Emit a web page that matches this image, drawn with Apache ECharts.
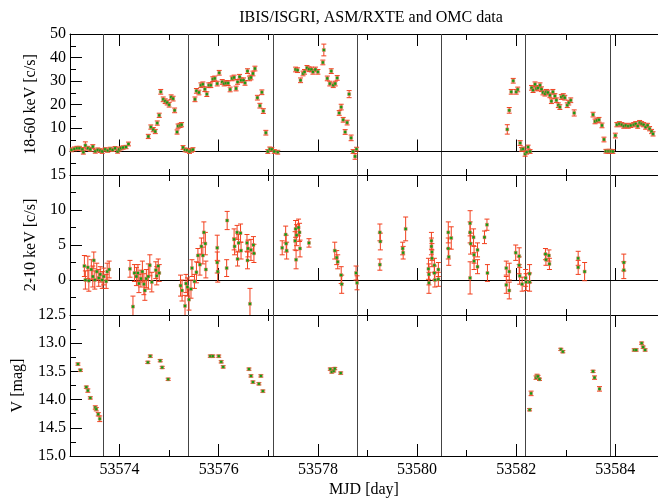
<!DOCTYPE html>
<html><head><meta charset="utf-8">
<script src="https://cdn.jsdelivr.net/npm/echarts/dist/echarts.min.js"></script>
<style>html,body{margin:0;padding:0;background:#fff}#c{width:658px;height:499px}</style>
</head><body><div id="c"></div>
<script>
// ---------- DATA ----------
const hardMjd = [
 53573.03,53573.09,53573.14,53573.19,53573.25,53573.27,53573.31,53573.36,53573.41,53573.46,53573.51,53573.56,53573.61,53573.65,53573.71,53573.76,53573.81,53573.86,53573.91,53573.96,53573.99,53574.03,53574.07,53574.13,53574.18,
 53574.58,53574.63,53574.68,53574.72,53574.76,53574.80,53574.83,53574.88,53574.92,53574.96,53575.00,53575.04,53575.08,53575.11,53575.16,53575.18,53575.22,53575.25,
 53575.28,53575.32,53575.36,53575.41,53575.45,53575.48,
 53575.52,53575.55,53575.60,53575.64,53575.68,53575.72,53575.76,53575.80,53575.84,53575.88,53575.92,53575.97,53576.01,53576.07,53576.11,53576.15,53576.19,53576.23,53576.27,53576.31,53576.35,53576.38,53576.42,53576.45,53576.50,53576.53,53576.58,53576.62,53576.65,53576.69,53576.73,53576.78,53576.83,53576.87,53576.90,53576.95,
 53576.99,53577.03,53577.07,53577.12,53577.19,
 53577.55,53577.59,53577.65,53577.70,53577.73,53577.78,53577.82,53577.87,53577.90,53577.95,53578.00,53578.10,53578.12,53578.19,53578.24,53578.27,53578.31,53578.35,53578.39,53578.43,53578.47,53578.51,53578.55,53578.59,53578.63,53578.67,53578.71,53578.75,53578.78,
 53581.82,53581.86,53581.90,53581.94,53582.00,53582.03,53582.08,53582.11,53582.14,53582.18,53582.21,53582.24,53582.28,
 53582.31,53582.34,53582.38,53582.41,53582.44,53582.48,53582.51,53582.54,53582.58,53582.61,53582.64,53582.68,53582.71,53582.74,53582.78,53582.81,53582.85,53582.88,53582.91,53582.95,53582.98,53583.03,53583.06,53583.10,53583.17,
 53583.55,53583.59,53583.63,53583.67,53583.73,53583.77,53583.81,53583.85,53583.88,53583.91,53583.95,
 53584.00,53584.03,53584.08,53584.13,53584.17,53584.21,53584.26,53584.31,53584.37,53584.41,53584.45,53584.49,53584.53,53584.57,53584.61,53584.65,53584.69,53584.73,53584.76
];
const hardRate = [
 0.7,1.1,1.4,1.4,0.9,-0.3,2.6,1.4,0.9,2.1,0.1,0.7,0.4,0.0,0.9,0.4,1.1,0.7,1.4,0.0,0.9,1.4,1.7,1.9,3.2,
 6.4,10.4,9.3,8.5,12.1,15.4,25.4,22.2,21.4,20.8,19.9,23.1,22.5,17.5,8.3,10.8,11.1,11.4,
 1.7,0.7,0.5,0.0,0.5,0.8,
 22.2,25.8,25.1,28.2,28.6,26.5,24.4,28.2,28.2,30.8,31.1,28.9,33.5,29.6,28.9,29.1,29.1,26.4,31.1,31.5,26.8,29.6,31.8,30.3,30.3,29.2,34.2,31.1,31.5,33.2,35.3,22.9,19.5,25.2,17.2,8.0,
 0.0,1.1,0.9,0.0,-0.3,
 34.9,34.6,30.3,33.2,33.9,35.6,35.0,34.9,33.9,34.9,33.9,37.9,43.2,31.1,28.9,34.2,28.2,28.9,31.3,16.4,18.9,13.5,8.3,12.3,24.4,5.8,0.0,-2.1,1.0,
 9.4,17.5,25.4,30.1,25.4,26.4,3.6,0.9,1.1,-1.0,-0.3,1.9,0.0,
 27.1,26.1,28.6,26.8,27.1,28.2,26.5,25.1,24.6,25.4,25.1,23.9,21.4,25.4,23.6,21.8,19.7,18.9,23.2,23.6,22.9,19.7,20.8,21.8,16.4,
 15.7,12.8,13.2,13.5,11.1,5.1,0.1,0.1,0.1,0.1,0.0,
 6.8,11.4,11.8,11.4,10.8,11.1,10.8,11.1,11.4,11.8,10.8,12.3,11.8,11.4,10.4,11.1,9.7,8.5,7.5
];
const hardErr = [
 0.8,0.8,0.8,0.8,0.8,0.8,1.5,0.8,0.8,0.8,0.8,0.8,0.8,0.8,0.7,0.7,0.7,0.7,0.7,0.7,0.7,0.7,0.7,0.7,0.8,
 0.9,0.9,0.9,0.9,0.9,0.9,1.0,1.0,1.0,1.0,1.0,1.0,1.0,1.0,0.9,0.9,0.9,0.9,
 0.8,0.8,0.8,0.8,0.8,0.8,
 1.0,1.0,1.0,1.0,1.0,1.0,1.0,1.0,1.0,1.0,1.0,1.0,1.0,1.0,1.0,1.0,1.0,1.0,1.0,1.0,1.0,1.0,1.0,1.0,1.0,1.0,1.0,1.0,1.0,1.0,1.0,1.0,1.0,1.0,1.0,1.0,
 0.8,0.8,0.8,0.8,0.8,
 1.0,1.0,1.0,1.0,1.0,1.0,1.0,1.0,1.0,1.0,1.0,1.0,2.5,1.0,1.0,1.0,1.0,1.0,1.0,1.0,1.2,1.0,1.0,1.0,1.5,1.2,0.8,1.2,0.8,
 2.0,1.2,1.0,1.0,1.0,1.0,1.0,0.8,0.8,1.0,0.8,0.8,0.8,
 1.0,1.0,1.0,1.0,1.0,1.0,1.0,1.0,1.0,1.0,1.0,1.0,1.0,1.0,1.0,1.0,1.0,1.0,1.0,1.0,1.0,1.0,1.0,1.0,1.3,
 1.0,1.0,1.0,1.0,1.0,1.0,0.8,0.8,0.8,0.8,0.8,
 1.0,0.9,0.9,0.9,0.9,0.9,0.9,0.9,0.9,0.9,0.9,0.9,0.9,0.9,0.9,0.9,0.9,0.9,0.9
];

const softMjd = [
 53573.29,53573.31,53573.36,53573.38,53573.43,53573.46,53573.48,53573.50,53573.54,53573.58,53573.61,53573.65,53573.68,53573.73,53573.75,53573.79,
 53574.21,53574.27,53574.30,53574.34,53574.37,53574.39,53574.43,53574.46,53574.49,53574.51,53574.54,53574.58,53574.61,53574.65,53574.73,53574.75,53574.78,53574.80,
 53575.23,53575.26,53575.32,53575.34,53575.37,53575.40,53575.44,53575.46,53575.51,53575.55,53575.58,53575.62,53575.65,53575.68,53575.70,53575.73,53575.74,
 53575.97,53575.97,53575.98,53576.16,53576.17,53576.31,53576.32,53576.37,53576.38,53576.40,53576.44,53576.45,53576.57,53576.58,53576.59,53576.63,53576.65,53576.70,53576.71,
 53577.28,53577.35,53577.36,53577.37,53577.54,53577.55,53577.56,53577.57,53577.61,53577.63,53577.64,53577.82,
 53578.34,53578.38,53578.40,53578.47,53578.48,53578.77,53578.79,
 53579.25,53579.26,53579.25,53579.71,53579.72,53579.77,
 53580.23,53580.24,53580.24,53580.29,53580.29,53580.30,53580.30,53580.35,53580.35,53580.36,53580.43,53580.43,53580.63,53580.63,53580.64,53580.69,
 53581.07,53581.07,53581.08,53581.07,53581.14,53581.15,53581.15,53581.22,53581.22,53581.36,53581.41,53581.42,
 53581.80,53581.80,53581.86,53581.86,53581.99,53582.06,53582.06,53582.07,53582.12,53582.19,53582.20,53582.27,53582.27,
 53582.59,53582.60,53582.66,53582.67,53583.25,53583.25,53583.38,53584.17,53584.17
];
const softRate = [
 2.0,0.0,1.8,-0.1,1.5,0.5,2.8,0.0,1.2,0.3,0.8,0.0,0.5,-0.2,1.2,1.5,
 1.6,-3.8,1.0,0.5,1.0,-0.5,0.2,1.2,-0.6,-1.5,0.2,0.5,2.1,-0.3,1.4,0.6,2.0,1.0,
 -0.8,-1.5,-3.7,-0.5,-1.0,-2.8,-1.3,1.7,-0.2,1.1,3.5,2.2,4.8,3.5,6.8,5.2,1.5,
 4.6,2.5,1.2,1.7,8.5,5.8,4.8,6.8,3.0,5.3,6.7,4.2,5.3,2.8,4.5,-3.4,4.3,5.0,3.8,
 4.6,6.5,5.2,4.2,5.6,7.3,2.9,6.4,7.5,6.8,4.5,5.3,
 4.2,3.2,2.6,0.7,-0.6,1.0,-0.4,
 6.8,5.5,2.2,4.5,3.9,7.3,
 1.6,0.8,-0.4,5.6,4.8,4.0,3.1,2.1,1.0,0.0,1.5,0.1,6.8,4.5,3.3,6.0,
 8.1,6.8,5.2,0.3,6.1,3.6,2.7,4.3,1.9,6.1,7.9,1.0,
 1.7,-0.7,1.2,-1.5,3.9,3.4,2.1,0.6,-0.6,0.3,-0.3,0.9,-0.3,
 3.7,2.9,3.5,2.3,3.1,1.8,1.2,2.5,1.4
];
const softErr = [
 1.5,1.3,1.6,1.5,1.4,1.5,1.2,1.3,1.2,1.2,1.1,1.2,1.2,1.0,1.2,1.2,
 1.2,1.5,1.2,1.3,1.2,1.3,1.2,1.5,1.5,1.4,1.3,1.8,1.5,1.4,1.2,1.3,1.0,1.2,
 1.5,1.5,1.5,1.3,1.3,1.5,1.3,1.2,1.0,1.5,1.0,1.5,1.2,1.2,1.5,1.6,1.2,
 1.8,1.5,1.5,1.2,1.3,1.5,1.2,1.0,1.0,1.2,1.3,1.2,1.2,1.2,1.2,2.2,1.5,1.2,1.3,
 1.0,1.2,1.2,1.2,1.3,1.2,1.3,1.5,1.2,1.3,1.2,0.6,
 1.2,1.0,1.0,1.2,1.3,1.0,1.0,
 1.2,1.2,0.8,0.9,0.9,1.7,
 1.5,1.5,1.5,1.2,1.2,1.2,1.2,1.0,1.0,1.0,1.0,1.0,1.5,1.5,1.2,1.6,
 1.8,1.5,1.5,2.3,1.2,1.2,1.2,1.0,1.0,0.9,0.8,1.2,
 1.0,1.2,1.2,1.2,1.1,1.2,1.2,1.2,1.0,1.2,1.2,1.3,1.3,
 0.8,0.8,0.8,0.8,1.0,1.0,1.3,1.2,1.2
];

const optMjd = [
 53573.16,53573.21,53573.33,53573.36,53573.41,53573.51,53573.53,53573.57,53573.60,
 53574.57,53574.62,53574.82,53574.86,53574.98,
 53575.83,53575.88,53576.00,53576.05,53576.09,
 53576.61,53576.65,53576.69,53576.81,53576.85,53576.89,
 53578.25,53578.28,53578.32,53578.34,53578.46,
 53582.27,53582.30,53582.40,53582.42,53582.44,53582.47,53582.90,53582.94,
 53583.55,53583.58,53583.68,
 53584.38,53584.42,53584.53,53584.56,53584.60
];
const optMag = [
 13.37,13.48,13.78,13.84,13.97,14.14,14.17,14.26,14.34,
 13.34,13.23,13.31,13.43,13.64,
 13.23,13.23,13.23,13.33,13.42,
 13.46,13.58,13.69,13.72,13.58,13.85,
 13.46,13.51,13.49,13.45,13.53,
 14.18,13.89,13.61,13.58,13.59,13.64,13.11,13.15,
 13.50,13.61,13.81,
 13.12,13.12,13.00,13.07,13.12
];
const optErr = [
 0.02,0.02,0.02,0.03,0.02,0.03,0.03,0.03,0.05,
 0.02,0.02,0.02,0.02,0.02,
 0.02,0.02,0.02,0.02,0.02,
 0.02,0.02,0.02,0.02,0.02,0.02,
 0.02,0.02,0.02,0.02,0.02,
 0.02,0.04,0.03,0.03,0.02,0.02,0.02,0.02,
 0.02,0.03,0.04,
 0.02,0.02,0.02,0.02,0.02
];

const orbitEdges = [53573.68,53575.38,53577.09,53578.80,53580.49,53582.19,53583.90];
const majorDays = [53574,53576,53578,53580,53582,53584];
const minorDays = [53575,53577,53579,53581,53583];
const panelNames = ['18-60 keV [c/s]','2-10 keV [c/s]','V [mag]'];

// ---------- CHART ----------
const FONT = 'Liberation Serif';
const RED = '#f2401e', GREEN = '#109e10';
const X0 = 53573, X1 = 53584.86;
const gridDefs = [{top:34,height:141},{top:175,height:140},{top:315,height:141}];
const grid = gridDefs.map(g => ({left:70, width:592, top:g.top, height:g.height}));

const xAxis = [];
gridDefs.forEach((g, gi) => {
  ['bottom','top'].forEach(pos => {
    const labelled = (gi === 2 && pos === 'bottom');
    xAxis.push({
      type:'value', gridIndex:gi, position:pos, min:X0, max:X1,
      axisLine:{show:true, lineStyle:{color:'#000', width:1}},
      axisTick:{show:true, inside:true, length:12, customValues:majorDays, lineStyle:{color:'#000'}},
      axisLabel: labelled ? {show:true, customValues:majorDays, formatter:v => String(v), margin:6, fontFamily:FONT, fontSize:16, color:'#000'} : {show:false},
      splitLine:{show:false},
      name: labelled ? 'MJD [day]' : '', nameLocation:'middle', nameGap:26,
      nameTextStyle:{fontFamily:FONT, fontSize:16, color:'#000'}
    });
    xAxis.push({
      type:'value', gridIndex:gi, position:pos, min:X0, max:X1,
      axisLine:{show:false},
      axisTick:{show:true, inside:true, length:6, customValues:minorDays, lineStyle:{color:'#000'}},
      axisLabel:{show:false}, splitLine:{show:false}
    });
  });
});

const yCfg = [
  {min:-10, max:50, interval:10, inverse:false, fmt:v => v === -10 ? '' : String(v), gap:30},
  {min:-5, max:15, interval:5, inverse:false, fmt:v => v === -5 ? '' : String(v), gap:30},
  {min:12.5, max:15, interval:0.5, inverse:true, fmt:v => v.toFixed(1), gap:44}
];
const yAxis = yCfg.map((c, gi) => ({
  type:'value', gridIndex:gi, position:'left', min:c.min, max:c.max, interval:c.interval, inverse:c.inverse,
  axisLine:{show:true, lineStyle:{color:'#000'}},
  axisTick:{show:true, inside:true, length:12, lineStyle:{color:'#000'}},
  minorTick:{show:true, splitNumber:2, length:6, lineStyle:{color:'#000'}},
  axisLabel:{show:true, formatter:c.fmt, margin:4, fontFamily:FONT, fontSize:16, color:'#000'},
  splitLine:{show:false},
  name:panelNames[gi], nameLocation:'middle', nameGap:c.gap,
  nameTextStyle:{fontFamily:FONT, fontSize:16, color:'#000'}
}));

function errRender(params, api) {
  const x = api.value(0), y = api.value(1), e = api.value(2);
  const a = api.coord([x, y - e]), b = api.coord([x, y + e]);
  const cap = 2.5, st = {stroke:RED, lineWidth:1};
  return {type:'group', children:[
    {type:'line', shape:{x1:a[0], y1:a[1], x2:b[0], y2:b[1]}, style:st},
    {type:'line', shape:{x1:a[0]-cap, y1:a[1], x2:a[0]+cap, y2:a[1]}, style:st},
    {type:'line', shape:{x1:b[0]-cap, y1:b[1], x2:b[0]+cap, y2:b[1]}, style:st}
  ]};
}

const panels = [
  {mjd:hardMjd, val:hardRate, err:hardErr, zero:true},
  {mjd:softMjd, val:softRate, err:softErr, zero:true},
  {mjd:optMjd, val:optMag, err:optErr, zero:false}
];
const series = [];
panels.forEach((p, gi) => {
  const rows = p.mjd.map((m, i) => [m, p.val[i], p.err[i]]);
  const mlData = orbitEdges.map(v => ({xAxis:v, lineStyle:{color:'#444', width:1, type:'solid'}}));
  if (p.zero) mlData.push({yAxis:0, lineStyle:{color:'#000', width:1, type:'solid'}});
  series.push({
    type:'custom', xAxisIndex:gi*4, yAxisIndex:gi, data:rows, renderItem:errRender, clip:true, z:3,
    encode:{x:0, y:1}, silent:true,
    markLine:{silent:true, symbol:['none','none'], label:{show:false}, z:1, data:mlData, animation:false,
      lineStyle:{type:'solid'}}
  });
  series.push({
    type:'scatter', xAxisIndex:gi*4, yAxisIndex:gi, data:rows.map(r => [r[0], r[1]]),
    symbol:'rect', symbolSize:3, z:4, silent:true,
    itemStyle:{color:GREEN, borderColor:'rgba(240,120,100,0.5)', borderWidth:1, opacity:1}
  });
});

const chart = echarts.init(document.getElementById('c'), null, {renderer:'canvas'});
chart.setOption({
  animation:false, backgroundColor:'#fff',
  title:{text:'IBIS/ISGRI, ASM/RXTE and OMC data', left:366, top:5, textAlign:'center',
    textStyle:{fontFamily:FONT, fontSize:16, fontWeight:'normal', color:'#000'}},
  grid, xAxis, yAxis, series
});
</script>
</body></html>
